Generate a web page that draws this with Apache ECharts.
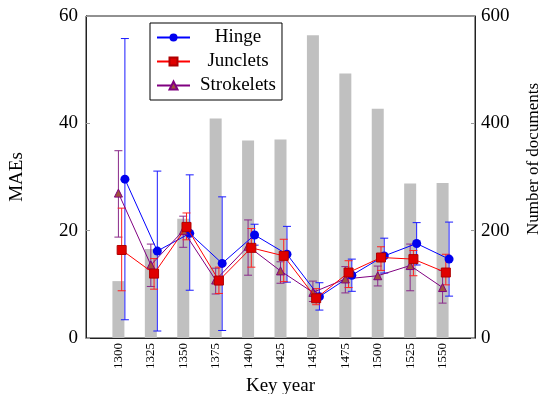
<!DOCTYPE html>
<html>
<head>
<meta charset="utf-8">
<script src="https://cdn.jsdelivr.net/npm/echarts@6/dist/echarts.min.js"></script>
<style>
  html, body { margin: 0; padding: 0; background: #fff; }
  #chart { width: 540px; height: 394px; }
</style>
</head>
<body>
<div id="chart"></div>
<script>
// key years and document counts (right axis)
const years = [1300, 1325, 1350, 1375, 1400, 1425, 1450, 1475, 1500, 1525, 1550];
const docs = [106, 166, 222, 409, 368, 370, 564, 493, 427, 288, 289];

// MAE per method, with error bar ends
const hinge = [29.6, 16.2, 19.5, 13.9, 19.2, 15.6, 7.7, 11.7, 15.3, 17.6, 14.7];
const hingeLow = [3.4, 1.3, 8.9, 1.4, 17.3, 10.4, 5.2, 8.7, 12.1, 13.6, 7.8];
const hingeHigh = [55.8, 31.1, 30.4, 26.3, 21.2, 20.8, 10.3, 14.7, 18.6, 21.5, 21.6];

const junclets = [16.4, 12.0, 20.7, 10.7, 16.8, 15.3, 7.4, 12.2, 15.0, 14.7, 12.2];
const juncLow = [8.8, 9.1, 18.3, 8.3, 13.2, 10.5, 6.2, 9.4, 12.6, 11.6, 9.9];
const juncHigh = [24.2, 14.8, 23.3, 13.2, 20.4, 18.4, 9.2, 14.4, 17.0, 16.3, 15.6];

const strokelets = [27.0, 13.6, 20.0, 10.8, 17.1, 12.5, 8.5, 11.0, 11.6, 13.5, 9.4];
const strokeLow = [18.8, 9.6, 16.9, 8.2, 11.7, 10.2, 6.8, 8.4, 9.7, 8.8, 6.5];
const strokeHigh = [34.9, 17.5, 22.7, 13.0, 22.0, 14.2, 10.6, 13.3, 13.4, 17.5, 12.6];

const leftTicks = [0, 20, 40, 60];
const rightTicks = [0, 200, 400, 600];

const font = "'Liberation Serif', 'DejaVu Serif', serif";

// small x shift so the three series do not sit on top of each other
const shift = { Hinge: 5, Junclets: 2.5, Strokelets: 0 };

function pts(name, vals) {
  return years.map((y, i) => [y + shift[name], vals[i]]);
}
function errs(name, lo, hi) {
  return years.map((y, i) => [y + shift[name], lo[i], hi[i]]);
}

function errorBar(color) {
  return function (params, api) {
    const x = api.value(0);
    const top = api.coord([x, api.value(2)]);
    const bot = api.coord([x, api.value(1)]);
    const w = 4;
    const style = { stroke: color, lineWidth: 1, fill: null };
    return {
      type: 'group',
      children: [
        { type: 'line', shape: { x1: top[0], y1: top[1], x2: bot[0], y2: bot[1] }, style: style },
        { type: 'line', shape: { x1: top[0] - w, y1: top[1], x2: top[0] + w, y2: top[1] }, style: style },
        { type: 'line', shape: { x1: bot[0] - w, y1: bot[1], x2: bot[0] + w, y2: bot[1] }, style: style }
      ]
    };
  };
}

const chart = echarts.init(document.getElementById('chart'));

const option = {
  animation: false,
  textStyle: { fontFamily: font },
  grid: {
    left: 86, right: 65, top: 16, bottom: 56,
    outerBoundsMode: 'none',
    containLabel: false,
    show: true, borderColor: '#222', borderWidth: 1
  },
  legend: {
    orient: 'vertical',
    left: 150, top: 23,
    width: 135,
    padding: [5, 6, 5, 6],
    itemGap: 5,
    itemWidth: 33, itemHeight: 10,
    borderColor: '#000', borderWidth: 1,
    backgroundColor: '#fff',
    data: ['Hinge', 'Junclets', 'Strokelets'],
    formatter: name => '{a|' + name + '}',
    textStyle: {
      fontFamily: font,
      fontSize: 19,
      color: '#000',
      rich: { a: { width: 86, align: 'center', fontSize: 19, fontFamily: font } }
    }
  },
  xAxis: {
    type: 'value',
    min: 1275, max: 1575, interval: 25,
    name: 'Key year',
    nameLocation: 'middle',
    nameGap: 36,
    nameTextStyle: { fontSize: 19, color: '#000', fontFamily: font },
    axisLine: { lineStyle: { color: '#222' } },
    axisTick: { show: false },
    splitLine: { show: false },
    axisLabel: {
      rotate: 90,
      margin: 5,
      fontSize: 13,
      color: '#000',
      fontFamily: font,
      formatter: v => (years.indexOf(v) >= 0 ? String(v) : '')
    }
  },
  yAxis: [
    {
      type: 'value',
      min: 0, max: 60, interval: 20,
      name: 'MAEs',
      nameLocation: 'middle',
      nameRotate: 90,
      nameGap: 59,
      nameTextStyle: { fontSize: 19, color: '#000', fontFamily: font },
      axisLine: { show: true, lineStyle: { color: '#222' } },
      axisTick: { show: true, inside: true, length: 4, lineStyle: { color: '#999' } },
      splitLine: { show: false },
      axisLabel: {
        margin: 8, fontSize: 19, color: '#000', fontFamily: font,
        formatter: v => (leftTicks.indexOf(v) >= 0 ? String(v) : '')
      }
    },
    {
      type: 'value',
      min: 0, max: 600, interval: 200,
      position: 'right',
      name: 'Number of documents',
      nameLocation: 'middle',
      nameRotate: 90,
      nameGap: 50,
      nameTextStyle: { fontSize: 17, color: '#000', fontFamily: font, padding: [0, 0, 0, 36] },
      axisLine: { show: true, lineStyle: { color: '#222' } },
      axisTick: { show: true, inside: true, length: 4, lineStyle: { color: '#999' } },
      splitLine: { show: false },
      axisLabel: {
        margin: 6, fontSize: 19, color: '#000', fontFamily: font,
        formatter: v => (rightTicks.indexOf(v) >= 0 ? String(v) : '')
      }
    }
  ],
  series: [
    {
      name: 'Documents',
      type: 'bar',
      yAxisIndex: 1,
      barWidth: 12,
      itemStyle: { color: '#c0c0c0' },
      z: 1,
      data: years.map((y, i) => [y, docs[i]])
    },
    {
      name: 'HingeErr', type: 'custom', yAxisIndex: 0, z: 3,
      renderItem: errorBar('#1a1aff'),
      data: errs('Hinge', hingeLow, hingeHigh)
    },
    {
      name: 'Hinge', type: 'line', yAxisIndex: 0, z: 4,
      symbol: 'circle', symbolSize: 9,
      lineStyle: { color: '#0000ff', width: 1 },
      itemStyle: { color: '#0000ee', borderColor: '#0000ee', borderWidth: 0 },
      data: pts('Hinge', hinge)
    },
    {
      name: 'StrokeletsErr', type: 'custom', yAxisIndex: 0, z: 3,
      renderItem: errorBar('#8a2a8a'),
      data: errs('Strokelets', strokeLow, strokeHigh)
    },
    {
      name: 'Strokelets', type: 'line', yAxisIndex: 0, z: 4,
      symbol: 'triangle', symbolSize: 8,
      lineStyle: { color: '#800080', width: 1 },
      itemStyle: { color: '#a0523c', borderColor: '#800080', borderWidth: 1 },
      data: pts('Strokelets', strokelets)
    },
    {
      name: 'JuncletsErr', type: 'custom', yAxisIndex: 0, z: 3,
      renderItem: errorBar('#ff2020'),
      data: errs('Junclets', juncLow, juncHigh)
    },
    {
      name: 'Junclets', type: 'line', yAxisIndex: 0, z: 5,
      symbol: 'rect', symbolSize: 9,
      lineStyle: { color: '#ff0000', width: 1 },
      itemStyle: { color: '#e00000', borderColor: '#b00000', borderWidth: 1 },
      data: pts('Junclets', junclets)
    }
  ]
};

chart.setOption(option);
</script>
</body>
</html>
